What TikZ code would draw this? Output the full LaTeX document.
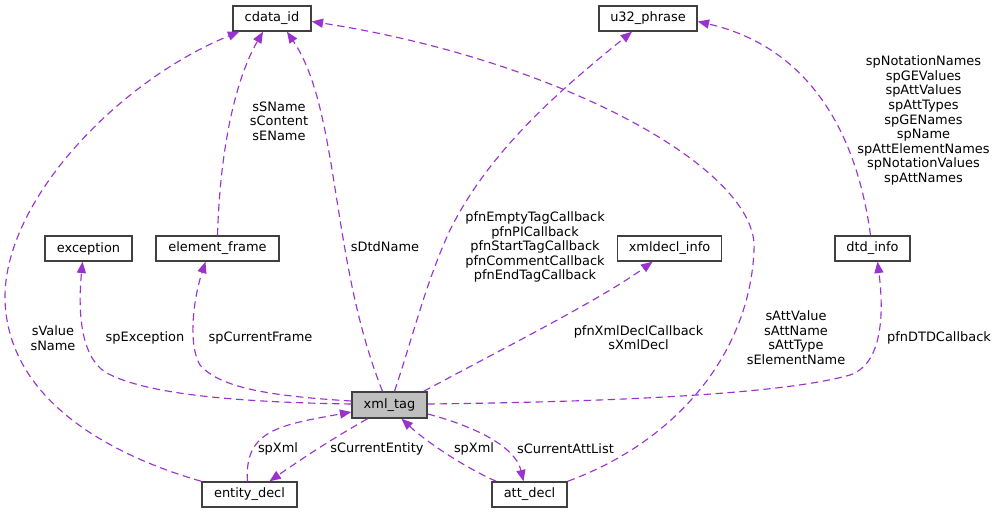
\documentclass[tikz,border=0pt]{standalone}
\usepackage{fontspec}
\setmainfont{DejaVu Sans}
\usetikzlibrary{arrows.meta,calc}
\definecolor{edgec}{HTML}{9A32CD}
\definecolor{boxc}{HTML}{404040}
\begin{document}
\begin{tikzpicture}[x=0.75pt,y=-0.75pt,
  every node/.style={font=\fontsize{9.7}{10.9}\selectfont},
  cls/.style={draw=boxc,line width=1.1pt,fill=white,minimum height=18.75pt,inner sep=0pt},
  dep/.style={draw=edgec,line width=0.85pt,dash pattern=on 5.5pt off 3.5pt,-{Triangle[length=8.5pt,width=6.8pt]},fill=none},
  lbl/.style={align=center,inner sep=0pt}]
\useasboundingbox (0,0) rectangle (998,513);
% classes
\node[cls,minimum width=58.5pt] (cdata) at (272,18.5) {cdata\_id};
\node[cls,minimum width=73.5pt] (u32) at (648,18.5) {u32\_phrase};
\node[cls,minimum width=65.25pt] (exc) at (88.5,248.5) {exception};
\node[cls,minimum width=92.25pt] (elf) at (217.5,248.5) {element\_frame};
\node[cls,minimum width=78pt] (xdi) at (669.5,248.5) {xmldecl\_info};
\node[cls,minimum width=56.25pt] (dtd) at (872.5,248.5) {dtd\_info};
\node[cls,minimum width=56.25pt,minimum height=19.5pt,fill=black!25] (xml) at (389.5,405) {xml\_tag};
\node[cls,minimum width=71.25pt] (ent) at (249.5,494.5) {entity\_decl};
\node[cls,minimum width=56.25pt] (att) at (529.5,494.5) {att\_decl};
% edges
\draw[dep] (ent.north west) .. controls (110,455) and (8,400) .. (5,300)
  .. controls (3,200) and (120,80) .. ($(cdata.south west)+(7,0)$);
\draw[dep] (elf.north) .. controls (220,150) and (235,80) .. ($(cdata.south)+(-9,0)$);
\draw[dep] ($(xml.north)+(-7,0)$) .. controls (330,260) and (340,110) .. ($(cdata.south)+(15,0)$);
\draw[dep] (att.north east) .. controls (680,440) and (750,350) .. (754,250)
  .. controls (760,170) and (560,60) .. ($(cdata.east)+(0,3)$);
\draw[dep] ($(xml.north)+(5,0)$) .. controls (415,330) and (425,285) .. (450,230)
  .. controls (490,150) and (560,90) .. ($(u32.south)+(-16,0)$);
\draw[dep] ($(dtd.north)+(-2,0)$) .. controls (855,120) and (800,45) .. ($(u32.east)+(0,3)$);
\draw[dep] ($(xml.west)+(0,-1)$) .. controls (220,402) and (140,392) .. (105,372)
  .. controls (80,355) and (78,310) .. ($(exc.south)+(-6,0)$);
\draw[dep] ($(xml.west)+(0,-4)$) .. controls (270,396) and (220,388) .. (200,365)
  .. controls (188,345) and (193,300) .. ($(elf.south)+(-12,0)$);
\draw[dep] ($(xml.north east)+(-4,0)$) .. controls (500,350) and (600,300) .. ($(xdi.south)+(-17,0)$);
\draw[dep] ($(xml.east)+(0,-1)$) .. controls (600,402) and (780,395) .. (850,375)
  .. controls (880,365) and (885,320) .. ($(dtd.south)+(5,0)$);
\draw[dep] ($(xml.south)+(-22,0)$) .. controls (330,440) and (300,460) .. ($(ent.north)+(20,0)$);
\draw[dep] ($(ent.north)+(-2,0)$) .. controls (244,430) and (280,425) .. ($(xml.west)+(0,7)$);
\draw[dep] ($(xml.east)+(0,9)$) .. controls (470,425) and (515,445) .. ($(att.north)+(-6,0)$);
\draw[dep] ($(att.north west)+(5,0)$) .. controls (470,470) and (430,445) .. ($(xml.south)+(12,0)$);
% labels
\node[lbl] (l1) at (53,338) {sValue\\sName};
\node[lbl] (l2) at (279,121) {sSName\\sContent\\sEName};
\node[lbl] (l3) at (385,247) {sDtdName};
\node[lbl] (l4) at (535,247) {pfnEmptyTagCallback\\pfnPICallback\\pfnStartTagCallback\\pfnCommentCallback\\pfnEndTagCallback};
\node[lbl] (l5) at (796,337.5) {sAttValue\\sAttName\\sAttType\\sElementName};
\node[lbl] (l6) at (923.5,120.5) {spNotationNames\\spGEValues\\spAttValues\\spAttTypes\\spGENames\\spName\\spAttElementNames\\spNotationValues\\spAttNames};
\node[lbl] (l7) at (145,338) {spException};
\node[lbl] (l8) at (260.5,338) {spCurrentFrame};
\node[lbl] (l9) at (638.5,337.5) {pfnXmlDeclCallback\\sXmlDecl};
\node[lbl] (l10) at (939,338) {pfnDTDCallback};
\node[lbl] (l11) at (278,449) {spXml};
\node[lbl] (l12) at (377,449) {sCurrentEntity};
\node[lbl] (l13) at (474,449) {spXml};
\node[lbl] (l14) at (565.5,449) {sCurrentAttList};
\end{tikzpicture}
\end{document}
